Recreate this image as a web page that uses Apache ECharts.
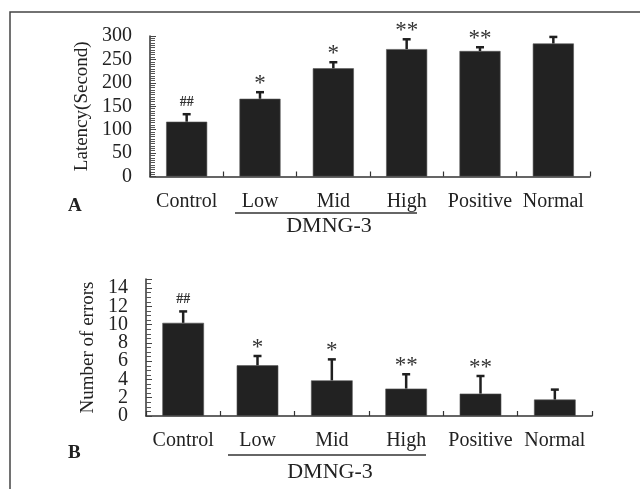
<!DOCTYPE html>
<html>
<head>
<meta charset="utf-8">
<script src="https://cdn.jsdelivr.net/npm/echarts@6/dist/echarts.min.js"></script>
<style>html,body{margin:0;padding:0;background:#fff}#c{width:640px;height:489px}</style>
</head>
<body>
<div id="c"></div>
<script>
const categories = ['Control', 'Low', 'Mid', 'High', 'Positive', 'Normal'];
const latency = [117, 166, 231, 272, 268, 284];
const latencyErrTop = [133, 180, 244, 293, 276, 298];
const latencySig = ['##', '*', '*', '**', '**', ''];
const errors = [10.2, 5.55, 3.9, 3.0, 2.45, 1.8];
const errorsErrTop = [11.45, 6.57, 6.2, 4.57, 4.38, 2.89];
const errorsSig = ['##', '*', '*', '**', '**', ''];

const SERIF = '"Liberation Serif", "Times New Roman", serif';
const INK = '#1f1f1f';

function errRenderer(sig) {
  return function (params, api) {
    const x = api.value(0), v = api.value(1), e = api.value(2);
    const p0 = api.coord([x, v]);
    const p1 = api.coord([x, e]);
    const kids = [
      {type: 'line', shape: {x1: p0[0], y1: p0[1], x2: p1[0], y2: p1[1]}, style: {stroke: INK, lineWidth: 2.5}},
      {type: 'line', shape: {x1: p1[0] - 4, y1: p1[1], x2: p1[0] + 4, y2: p1[1]}, style: {stroke: INK, lineWidth: 2.5}}
    ];
    const s = sig[params.dataIndex];
    if (s) {
      const hash = s.indexOf('#') >= 0;
      kids.push({type: 'text', style: {
        text: s,
        x: p1[0], y: p1[1] - (hash ? 12 : 8),
        align: 'center', verticalAlign: 'middle',
        font: (hash ? 'bold 14px ' : '23px ') + SERIF,
        fill: '#333'
      }});
    }
    return {type: 'group', children: kids};
  };
}

function errData(vals, tops) {
  return vals.map((v, i) => [i, v, tops[i]]);
}

const catAxis = (gi) => ({
  type: 'category', gridIndex: gi, data: categories,
  axisLine: {lineStyle: {color: '#333', width: 1.5}},
  axisTick: {show: true, inside: true, length: 5, lineStyle: {color: '#333', width: 1.2}},
  axisLabel: {color: '#222', fontFamily: SERIF, fontSize: 20, margin: 15, interval: 0, hideOverlap: false}
});

const labelStyle = {color: '#222', fontFamily: SERIF, fontSize: 20, margin: 18, hideOverlap: false, interval: 0};

const valAxis = (gi, max, interval, minorSplit, name, gap, showMin) => ({
  type: 'value', gridIndex: gi, min: 0, max: max, interval: interval,
  name: name, nameLocation: 'middle', nameGap: gap,
  nameTextStyle: {color: '#222', fontFamily: SERIF, fontSize: 19},
  axisLine: {show: true, lineStyle: {color: '#333', width: 1.5}},
  axisTick: {show: true, inside: true, length: 6, lineStyle: {color: '#444', width: 1}},
  minorTick: {show: true, splitNumber: minorSplit, length: 5, lineStyle: {color: '#555', width: 1}},
  splitLine: {show: false},
  axisLabel: Object.assign({}, labelStyle, {showMinLabel: showMin, showMaxLabel: max % interval === 0})
});

const chart = echarts.init(document.getElementById('c'), null, {renderer: 'canvas'});
chart.setOption({
  animation: false,
  backgroundColor: '#fff',
  grid: [
    {left: 150, right: 50, top: 36, bottom: 312.5},
    {left: 146, right: 48, top: 279, bottom: 73}
  ],
  xAxis: [catAxis(0), catAxis(1)],
  yAxis: [
    valAxis(0, 300, 50, 10, 'Latency(Second)', 58, true),
    valAxis(1, 15, 2, 4, 'Number of errors', 48, false),
    {type: 'value', gridIndex: 1, min: 0, max: 15, interval: 15, position: 'left',
      axisLine: {show: false}, axisTick: {show: false}, splitLine: {show: false},
      axisLabel: Object.assign({}, labelStyle, {showMinLabel: true, showMaxLabel: false})}
  ],
  series: [
    {type: 'bar', xAxisIndex: 0, yAxisIndex: 0, data: latency, barWidth: '56%',
      itemStyle: {color: '#222', borderColor: '#555', borderWidth: 0.6}},
    {type: 'bar', xAxisIndex: 1, yAxisIndex: 1, data: errors, barWidth: '56%',
      itemStyle: {color: '#222', borderColor: '#555', borderWidth: 0.6}},
    {type: 'custom', xAxisIndex: 0, yAxisIndex: 0, data: errData(latency, latencyErrTop),
      renderItem: errRenderer(latencySig), z: 5},
    {type: 'custom', xAxisIndex: 1, yAxisIndex: 1, data: errData(errors, errorsErrTop),
      renderItem: errRenderer(errorsSig), z: 5}
  ],
  graphic: [
    {type: 'rect', shape: {x: 10, y: 12, width: 700, height: 600},
      style: {fill: 'none', stroke: '#444', lineWidth: 1.5}, silent: true},
    {type: 'text', x: 68, y: 206, style: {text: 'A', font: 'bold 19px ' + SERIF, fill: '#222', verticalAlign: 'middle'}},
    {type: 'text', x: 68, y: 453, style: {text: 'B', font: 'bold 19px ' + SERIF, fill: '#222', verticalAlign: 'middle'}},
    {type: 'line', shape: {x1: 235, y1: 213, x2: 417, y2: 213}, style: {stroke: '#333', lineWidth: 1.5}},
    {type: 'line', shape: {x1: 228, y1: 455, x2: 426, y2: 455}, style: {stroke: '#333', lineWidth: 1.5}},
    {type: 'text', x: 329, y: 226, style: {text: 'DMNG-3', font: '22px ' + SERIF, fill: '#222', align: 'center', verticalAlign: 'middle'}},
    {type: 'text', x: 330, y: 472, style: {text: 'DMNG-3', font: '22px ' + SERIF, fill: '#222', align: 'center', verticalAlign: 'middle'}}
  ]
});
</script>
</body>
</html>
